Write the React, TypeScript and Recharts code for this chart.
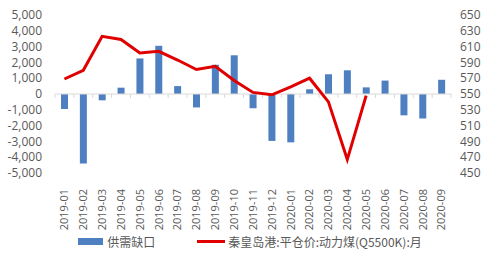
import React from "react";
import {
  ComposedChart,
  Bar,
  Line,
  XAxis,
  YAxis,
  Legend,
  ReferenceLine,
} from "recharts";

const months = [
  "2019-01", "2019-02", "2019-03", "2019-04", "2019-05", "2019-06", "2019-07",
  "2019-08", "2019-09", "2019-10", "2019-11", "2019-12", "2020-01", "2020-02",
  "2020-03", "2020-04", "2020-05", "2020-06", "2020-07", "2020-08", "2020-09",
];

// 供需缺口 (left axis)
const gap = [
  -950, -4400, -400, 400, 2250, 3050, 500, -850, 1850, 2450, -900, -2970,
  -3060, 300, 1250, 1500, 420, 850, -1350, -1550, 900,
];

// 秦皇岛港 平仓价 (right axis), stops at 2020-05
const price = [
  569, 580, 623, 619, 602, 604, 593, 581, 585, 567, 552, 549, 559, 570, 540,
  467, 548, null, null, null, null,
];

const leftTicks = [-5000, -4000, -3000, -2000, -1000, 0, 1000, 2000, 3000, 4000, 5000];
const rightTicks = [450, 470, 490, 510, 530, 550, 570, 590, 610, 630, 650];

const data = months.map((m, i) => ({ month: m, gap: gap[i], price: price[i] }));

const GRAY = "#595959";
const FONT = "'Open Sans', 'Noto Sans', sans-serif";
const CJK = "'Noto Sans CJK SC', sans-serif";

function fmt(v: number) {
  return v.toLocaleString("en-US");
}

function MonthTick(props: any) {
  const { x, y, payload } = props;
  return (
    <text
      x={x}
      y={y + 8}
      dy="0.35em"
      transform={`rotate(-90, ${x}, ${y + 8})`}
      textAnchor="end"
      fill={GRAY}
      fontSize={11}
      fontFamily={FONT}
    >
      {payload.value}
    </text>
  );
}

// zero line with small category-boundary ticks, like the excel axis
function ZeroAxis(props: any) {
  const { x1, x2, y1 } = props;
  if (x1 == null || x2 == null || y1 == null) return null;
  const step = (x2 - x1) / months.length;
  const ticks = [];
  for (let i = 0; i <= months.length; i++) {
    const tx = x1 + i * step;
    ticks.push(<line key={i} x1={tx} x2={tx} y1={y1} y2={y1 + 4} stroke="#d9d9d9" />);
  }
  return (
    <g>
      <line x1={x1} x2={x2} y1={y1} y2={y1} stroke="#d9d9d9" />
      {ticks}
    </g>
  );
}

function LegendBox() {
  return (
    <div
      style={{
        display: "flex",
        alignItems: "center",
        justifyContent: "center",
        height: 26,
        fontFamily: CJK,
        fontSize: 12,
        color: GRAY,
      }}
    >
      <span style={{ display: "inline-block", width: 25, height: 7, background: "#4E7FC0", marginRight: 4 }} />
      <span>供需缺口</span>
      <span style={{ display: "inline-block", width: 28, height: 3, background: "#E00000", marginLeft: 42, marginRight: 3 }} />
      <span>秦皇岛港:平仓价:动力煤(Q5500K):月</span>
    </div>
  );
}

export default function App() {
  return (
    <div style={{ position: "absolute", left: 0, top: 0, background: "#fff" }}>
      <ComposedChart
        width={500}
        height={258}
        data={data}
        margin={{ top: 15, right: 0, left: 0, bottom: 4 }}
      >
        <XAxis
          dataKey="month"
          interval={0}
          axisLine={false}
          tickLine={false}
          height={55}
          tick={<MonthTick />}
        />
        <YAxis
          yAxisId="left"
          width={55}
          domain={[-5000, 5000]}
          ticks={leftTicks}
          tickFormatter={fmt}
          axisLine={false}
          tickLine={false}
          tickMargin={7}
          tick={{ fill: GRAY, fontSize: 12, fontFamily: FONT }}
          interval={0}
        />
        <YAxis
          yAxisId="right"
          orientation="right"
          width={49}
          domain={[450, 650]}
          ticks={rightTicks}
          axisLine={false}
          tickLine={false}
          tickMargin={3}
          tick={{ fill: GRAY, fontSize: 12, fontFamily: FONT, textAnchor: "start" }}
          interval={0}
        />
        <ReferenceLine yAxisId="left" y={0} shape={<ZeroAxis />} />
        <Bar
          yAxisId="left"
          dataKey="gap"
          fill="#4E7FC0"
          barSize={7}
          isAnimationActive={false}
        />
        <Line
          yAxisId="right"
          dataKey="price"
          type="linear"
          stroke="#E00000"
          strokeWidth={3}
          dot={false}
          connectNulls={false}
          isAnimationActive={false}
        />
        <Legend verticalAlign="bottom" height={26} content={<LegendBox />} />
      </ComposedChart>
    </div>
  );
}
